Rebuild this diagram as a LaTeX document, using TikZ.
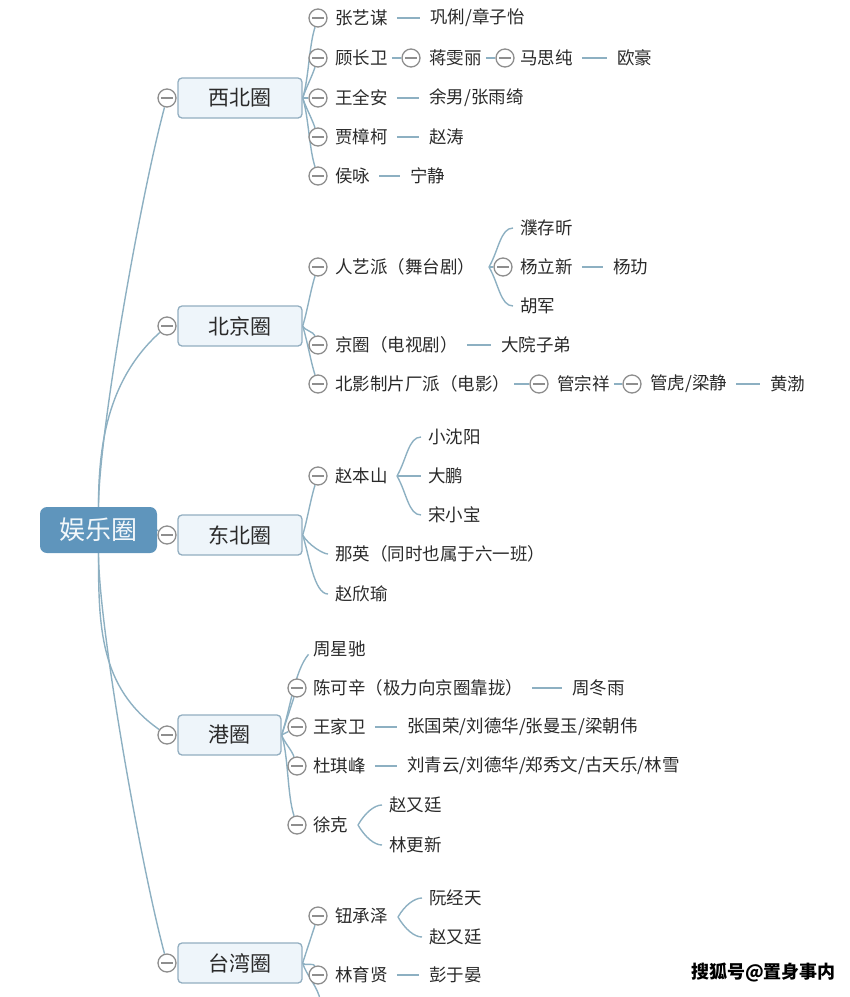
\documentclass[tikz,border=0pt]{standalone}
\usepackage{fontspec}
\newfontfamily\cjk{Noto Sans CJK SC}
\usetikzlibrary{backgrounds}
\definecolor{linec}{HTML}{8DB0C2}
\definecolor{foldc}{HTML}{8E8E8E}
\definecolor{boxfill}{HTML}{EEF5FA}
\definecolor{boxline}{HTML}{92AEC0}
\definecolor{rootfill}{HTML}{5F95BC}
\definecolor{txt}{HTML}{2A2A2A}
\tikzset{
  leaf/.style={font=\cjk\fontsize{17.5}{20}\selectfont, text=txt, inner xsep=0pt, inner ysep=1pt, anchor=west},
  mainbox/.style={draw=boxline, fill=boxfill, rounded corners=4pt, line width=1.3pt, minimum width=124pt, minimum height=40pt, inner sep=0pt, font=\cjk\fontsize{21}{24}\selectfont, text=txt},
  rootbox/.style={fill=rootfill, rounded corners=7pt, minimum width=117pt, minimum height=46pt, inner sep=0pt, font=\cjk\fontsize{26}{30}\selectfont, text=white!92!rootfill},
  fold/.style={circle, draw=foldc, fill=white, line width=1.3pt, minimum size=18pt, inner sep=0pt,
    path picture={\draw[foldc, line width=1.3pt] ([xshift=-6pt]path picture bounding box.center) -- ([xshift=6pt]path picture bounding box.center);}},
  conn/.style={draw=linec, line width=1.4pt},
  dl/.style={conn, shorten <=9pt, shorten >=10pt},
  sl/.style={conn, shorten <=4pt},
  bu/.style={out=72,in=252,looseness=0.7},
  bd/.style={out=-72,in=108,looseness=0.7},
  wm/.style={font=\cjk\bfseries\fontsize{18}{22}\selectfont, text=black, inner sep=0pt, anchor=west}
}
\begin{document}
\begin{tikzpicture}[x=1pt,y=1pt]
\useasboundingbox (0,0) rectangle (850,-997);
% root and main branches
\node[rootbox] (root) at (98.5,-530) {娱乐圈};
\node[mainbox] (b1) at (240,-98) {西北圈};
\node[fold] (f1) at (167,-98) {};
\node[mainbox] (b2) at (240,-326) {北京圈};
\node[fold] (f2) at (167,-326) {};
\node[mainbox] (b3) at (240,-535) {东北圈};
\node[fold] (f3) at (167,-535) {};
\node[mainbox, minimum width=103pt] (b4) at (229.5,-735) {港圈};
\node[fold] (f4) at (167,-735) {};
\node[mainbox] (b5) at (240,-963) {台湾圈};
\node[fold] (f5) at (167,-963) {};
% 西北圈
\node[fold] (f11) at (318,-18) {}; \node[leaf] (t11) at (335,-18) {张艺谋}; \node[leaf] (t111) at (430,-18) {巩俐/章子怡};
\node[fold] (f12) at (318,-58) {}; \node[leaf] (t12) at (335,-58) {顾长卫};
\node[fold] (f121) at (411,-58) {}; \node[leaf] (t121) at (429,-58) {蒋雯丽};
\node[fold] (f1211) at (505,-58) {}; \node[leaf] (t1211) at (520,-58) {马思纯};
\node[leaf] (t12111) at (617,-58) {欧豪};
\node[fold] (f13) at (318,-98) {}; \node[leaf] (t13) at (335,-98) {王全安}; \node[leaf] (t131) at (429,-98) {余男/张雨绮};
\node[fold] (f14) at (318,-137) {}; \node[leaf] (t14) at (335,-137) {贾樟柯}; \node[leaf] (t141) at (429,-137) {赵涛};
\node[fold] (f15) at (318,-176) {}; \node[leaf] (t15) at (335,-176) {侯咏}; \node[leaf] (t151) at (410,-176) {宁静};
% 北京圈
\node[fold] (f21) at (318,-267) {}; \node[leaf] (t21) at (335,-267) {人艺派（舞台剧）};
\coordinate (j21) at (489,-267);
\node[leaf] (t211) at (520,-228) {濮存昕};
\node[fold] (f212) at (503,-267) {}; \node[leaf] (t212) at (520,-267) {杨立新}; \node[leaf] (t2121) at (613,-267) {杨玏};
\node[leaf] (t213) at (520,-306) {胡军};
\node[fold] (f22) at (318,-345) {}; \node[leaf] (t22) at (335,-345) {京圈（电视剧）}; \node[leaf] (t221) at (501,-345) {大院子弟};
\node[fold] (f23) at (318,-384) {}; \node[leaf] (t23) at (335,-384) {北影制片厂派（电影）};
\node[fold] (f231) at (539,-384) {}; \node[leaf] (t231) at (557,-384) {管宗祥};
\node[fold] (f2311) at (632,-384) {}; \node[leaf] (t2311) at (650,-384) {管虎/梁静};
\node[leaf] (t23111) at (770,-384) {黄渤};
% 东北圈
\node[fold] (f31) at (318,-476) {}; \node[leaf] (t31) at (335,-476) {赵本山};
\coordinate (j31) at (397,-476);
\node[leaf] (t311) at (428,-437) {小沈阳};
\node[leaf] (t312) at (428,-476) {大鹏};
\node[leaf] (t313) at (428,-515) {宋小宝};
\node[leaf] (t32) at (335,-554) {那英（同时也属于六一班）};
\node[leaf] (t33) at (335,-594) {赵欣瑜};
% 港圈
\node[leaf] (t41) at (313,-649) {周星驰};
\node[fold] (f42) at (297,-688) {}; \node[leaf] (t42) at (313,-688) {陈可辛（极力向京圈靠拢）}; \node[leaf] (t421) at (572,-688) {周冬雨};
\node[fold] (f43) at (297,-727) {}; \node[leaf] (t43) at (313,-727) {王家卫}; \node[leaf] (t431) at (407,-727) {张国荣/刘德华/张曼玉/梁朝伟};
\node[fold] (f44) at (297,-766) {}; \node[leaf] (t44) at (313,-766) {杜琪峰}; \node[leaf] (t441) at (407,-766) {刘青云/刘德华/郑秀文/古天乐/林雪};
\node[fold] (f45) at (297,-825) {}; \node[leaf] (t45) at (313,-825) {徐克};
\coordinate (j45) at (358,-825);
\node[leaf] (t451) at (389,-805) {赵又廷};
\node[leaf] (t452) at (389,-845) {林更新};
% 台湾圈
\node[fold] (f51) at (318,-916) {}; \node[leaf] (t51) at (335,-916) {钮承泽};
\coordinate (j51) at (398,-917);
\node[leaf] (t511) at (429,-898) {阮经天};
\node[leaf] (t512) at (429,-937) {赵又廷};
\node[fold] (f52) at (318,-975) {}; \node[leaf] (t52) at (335,-975) {林育贤}; \node[leaf] (t521) at (429,-975) {彭于晏};
\coordinate (off5) at (320,-1000);
% watermark
\node[wm] (wmk) at (691,-972) {搜狐号@置身事内};
\begin{pgfonlayer}{background}
% root connectors
\draw[conn] (root.north) to[out=90,in=255,out looseness=0.45,in looseness=0.6] (f1);
\draw[conn] (root.north) to[out=90,in=222,out looseness=0.8] (f2);
\draw[conn] (root.east) -- (f3);
\draw[conn] (root.south) to[out=-90,in=145] (f4);
\draw[conn] (root.south) to[out=-90,in=105,out looseness=0.45,in looseness=0.6] (f5);
% 西北圈
\draw[conn] (b1.east) to[bu] (f11);
\draw[conn] (b1.east) to[bu] (f12);
\draw[conn] (b1.east) -- (f13);
\draw[conn] (b1.east) to[bd] (f14);
\draw[conn] (b1.east) to[bd] (f15);
\draw[dl] (t11) -- (t111);
\draw[sl] (t12) -- (f121);
\draw[sl] (t121) -- (f1211);
\draw[dl] (t1211) -- (t12111);
\draw[dl] (t13) -- (t131);
\draw[dl] (t14) -- (t141);
\draw[dl] (t15) -- (t151);
% 北京圈
\draw[conn] (b2.east) to[bu] (f21);
\draw[conn] (b2.east) to[bd] (f22);
\draw[conn] (b2.east) to[bd] (f23);
\draw[conn, shorten >=7pt] (j21) to[out=60,in=180] (t211.west);
\draw[conn] (j21) -- (f212);
\draw[conn, shorten >=7pt] (j21) to[out=-60,in=180] (t213.west);
\draw[dl] (t212) -- (t2121);
\draw[dl] (t22) -- (t221);
\draw[sl] (t23) -- (f231);
\draw[sl] (t231) -- (f2311);
\draw[dl] (t2311) -- (t23111);
% 东北圈
\draw[conn] (b3.east) to[bu] (f31);
\draw[conn, shorten >=7pt] (b3.east) to[out=-60,in=180,looseness=0.8] (t32.west);
\draw[conn, shorten >=7pt] (b3.east) to[out=-72,in=180,looseness=0.8] (t33.west);
\draw[conn, shorten >=7pt] (j31) to[out=60,in=180] (t311.west);
\draw[conn, shorten >=7pt] (j31) -- (t312.west);
\draw[conn, shorten >=7pt] (j31) to[out=-60,in=180] (t313.west);
% 港圈
\draw[conn, shorten >=7pt] (b4.east) to[out=72,in=230,looseness=0.8] (t41.west);
\draw[conn] (b4.east) to[bu] (f42);
\draw[conn] (b4.east) -- (f43);
\draw[conn] (b4.east) to[bd] (f44);
\draw[conn] (b4.east) to[bd] (f45);
\draw[dl] (t42) -- (t421);
\draw[dl] (t43) -- (t431);
\draw[dl] (t44) -- (t441);
\draw[conn, shorten >=7pt] (j45) to[out=60,in=180] (t451.west);
\draw[conn, shorten >=7pt] (j45) to[out=-60,in=180] (t452.west);
% 台湾圈
\draw[conn] (b5.east) to[bu] (f51);
\draw[conn] (b5.east) to[bd] (f52);
\draw[conn] (b5.east) to[out=-75,in=95,looseness=0.7] (off5);
\draw[conn, shorten >=7pt] (j51) to[out=60,in=180] (t511.west);
\draw[conn, shorten >=7pt] (j51) to[out=-60,in=180] (t512.west);
\draw[dl] (t52) -- (t521);
\end{pgfonlayer}
\end{tikzpicture}
\end{document}
